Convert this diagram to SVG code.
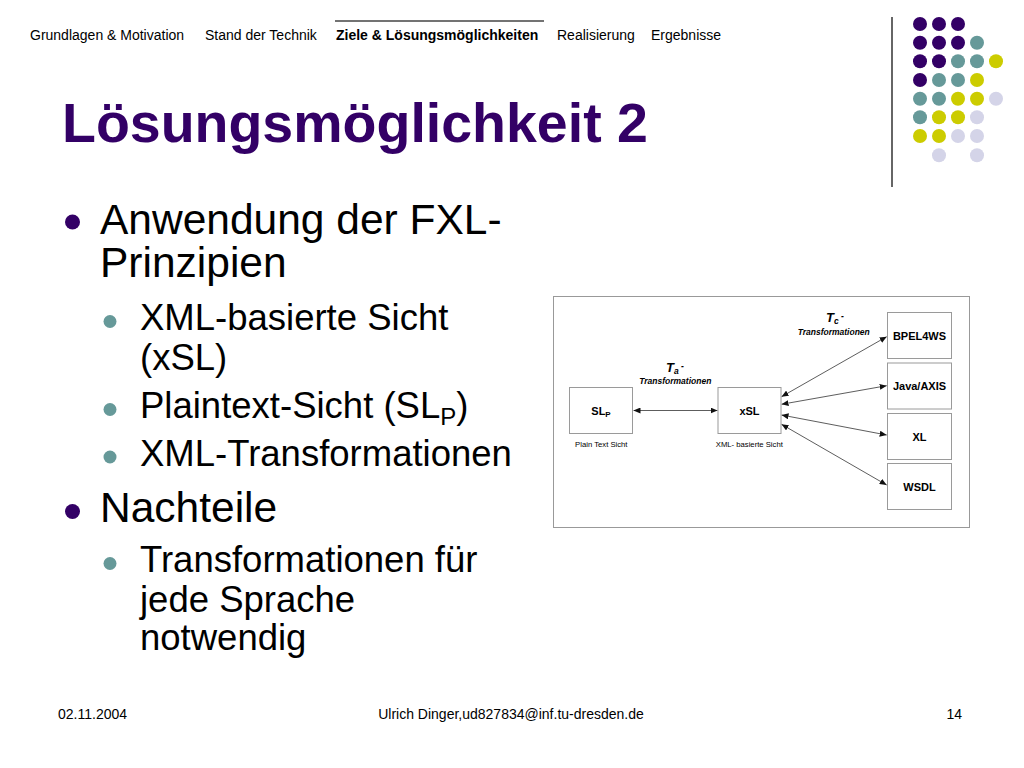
<svg xmlns="http://www.w3.org/2000/svg" width="1024" height="768" viewBox="0 0 1024 768">
<defs>
<style>
text{font-family:"Liberation Sans",Arial,sans-serif;}
.hdr{font-size:14px;fill:#000;}
.hdrb{font-size:14px;font-weight:bold;fill:#000;}
.title{font-size:55.5px;font-weight:bold;fill:#330066;}
.l1{font-size:42.5px;fill:#000;}
.l2{font-size:36.5px;fill:#000;}
.foot{font-size:14px;fill:#000;}
.b1{fill:#330066;}
.b2{fill:#669999;}
.pu{fill:#330066;}.te{fill:#669999;}.ye{fill:#cccc00;}.la{fill:#d4d4e8;}
.box{fill:#fff;stroke:#9a9a9a;stroke-width:1;}
.lbl{font-size:11px;font-weight:bold;fill:#000;text-anchor:middle;}
.cap{font-size:7.7px;fill:#000;text-anchor:middle;}
.tr{font-size:8.5px;font-weight:bold;font-style:italic;fill:#000;text-anchor:middle;}
.tt{font-size:13px;font-weight:bold;font-style:italic;fill:#000;}
.conn{stroke:#333;stroke-width:0.8;fill:none;marker-start:url(#ah);marker-end:url(#ah);}
</style>
<marker id="ah" markerUnits="userSpaceOnUse" markerWidth="7" markerHeight="6" refX="7" refY="3" orient="auto-start-reverse">
<path d="M0,0 L7,3 L0,6 z" fill="#111"/>
</marker>
</defs>
<rect width="1024" height="768" fill="#fff"/>

<!-- header navigation -->
<g id="header">
<text class="hdr" x="30" y="40">Grundlagen &amp; Motivation</text>
<text class="hdr" x="205" y="40">Stand der Technik</text>
<text class="hdrb" x="336" y="40">Ziele &amp; Lösungsmöglichkeiten</text>
<text class="hdr" x="557" y="40">Realisierung</text>
<text class="hdr" x="651" y="40">Ergebnisse</text>
<line x1="335" y1="21" x2="544" y2="21" stroke="#444" stroke-width="1.5"/>
</g>

<!-- decoration -->
<g id="decoration">
<line x1="892" y1="17" x2="892" y2="187" stroke="#333" stroke-width="1.5"/>
<circle class="pu" cx="920" cy="24" r="7"/><circle class="pu" cx="939" cy="24" r="7"/><circle class="pu" cx="958" cy="24" r="7"/>
<circle class="pu" cx="920" cy="42.7" r="7"/><circle class="pu" cx="939" cy="42.7" r="7"/><circle class="pu" cx="958" cy="42.7" r="7"/><circle class="te" cx="977" cy="42.7" r="7"/>
<circle class="pu" cx="920" cy="61.3" r="7"/><circle class="pu" cx="939" cy="61.3" r="7"/><circle class="te" cx="958" cy="61.3" r="7"/><circle class="te" cx="977" cy="61.3" r="7"/><circle class="ye" cx="996" cy="61.3" r="7"/>
<circle class="pu" cx="920" cy="80" r="7"/><circle class="te" cx="939" cy="80" r="7"/><circle class="te" cx="958" cy="80" r="7"/><circle class="ye" cx="977" cy="80" r="7"/>
<circle class="te" cx="920" cy="98.7" r="7"/><circle class="te" cx="939" cy="98.7" r="7"/><circle class="ye" cx="958" cy="98.7" r="7"/><circle class="ye" cx="977" cy="98.7" r="7"/><circle class="la" cx="996" cy="98.7" r="7"/>
<circle class="te" cx="920" cy="117.3" r="7"/><circle class="ye" cx="939" cy="117.3" r="7"/><circle class="ye" cx="958" cy="117.3" r="7"/><circle class="la" cx="977" cy="117.3" r="7"/>
<circle class="ye" cx="920" cy="136" r="7"/><circle class="ye" cx="939" cy="136" r="7"/><circle class="la" cx="958" cy="136" r="7"/><circle class="la" cx="977" cy="136" r="7"/>
<circle class="la" cx="939" cy="155.3" r="7"/><circle class="la" cx="977" cy="155.3" r="7"/>
</g>

<!-- title -->
<text class="title" x="62" y="142">Lösungsmöglichkeit 2</text>

<!-- bullet list -->
<g id="bullets">
<circle class="b1" cx="72.5" cy="222" r="7.5"/>
<text class="l1" x="100" y="234">Anwendung der FXL-</text>
<text class="l1" x="100" y="277">Prinzipien</text>
<circle class="b2" cx="110" cy="321.5" r="6.5"/>
<text class="l2" x="140" y="330">XML-basierte Sicht</text>
<text class="l2" x="140" y="370">(xSL)</text>
<circle class="b2" cx="110" cy="409.5" r="6.5"/>
<text class="l2" x="140" y="418">Plaintext-Sicht (SL<tspan font-size="24" dy="7">P</tspan><tspan dy="-7">)</tspan></text>
<circle class="b2" cx="110" cy="457" r="6.5"/>
<text class="l2" x="140" y="466">XML-Transformationen</text>
<circle class="b1" cx="72.5" cy="511.5" r="7.5"/>
<text class="l1" x="100" y="522">Nachteile</text>
<circle class="b2" cx="110" cy="563.5" r="6.5"/>
<text class="l2" x="140" y="572">Transformationen für</text>
<text class="l2" x="140" y="612">jede Sprache</text>
<text class="l2" x="140" y="650">notwendig</text>
</g>

<!-- diagram -->
<g id="diagram">
<rect x="553.5" y="296.5" width="416" height="231" fill="#fff" stroke="#999" stroke-width="1"/>

<g id="connectors">
<line class="conn" x1="633.5" y1="410.5" x2="717.5" y2="410.5"/>
<line class="conn" x1="781.5" y1="396.7" x2="886.7" y2="336.7"/>
<line class="conn" x1="781.5" y1="404.3" x2="886.7" y2="385.7"/>
<line class="conn" x1="781.5" y1="415" x2="886.7" y2="435"/>
<line class="conn" x1="781.5" y1="424.3" x2="886.7" y2="485"/>
</g>

<g id="n-slp">
<rect class="box" x="569.5" y="387.5" width="63" height="46"/>
<text class="lbl" x="601" y="415">SL<tspan font-size="8" dy="2">P</tspan></text>
<text class="cap" x="601.3" y="446.7">Plain Text Sicht</text>
</g>
<g id="n-xsl">
<rect class="box" x="718" y="387.5" width="63" height="46"/>
<text class="lbl" x="749.5" y="415">xSL</text>
<text class="cap" x="749.3" y="446.7">XML- basierte Sicht</text>
</g>
<g id="n-bpel">
<rect class="box" x="887.5" y="312.5" width="64" height="46"/>
<text class="lbl" x="919.5" y="339.5">BPEL4WS</text>
</g>
<g id="n-java">
<rect class="box" x="887.5" y="363" width="64" height="46"/>
<text class="lbl" x="919.5" y="390">Java/AXIS</text>
</g>
<g id="n-xl">
<rect class="box" x="887.5" y="413.5" width="64" height="46"/>
<text class="lbl" x="919.5" y="440.5">XL</text>
</g>
<g id="n-wsdl">
<rect class="box" x="887.5" y="463.5" width="64" height="46"/>
<text class="lbl" x="919.5" y="490.5">WSDL</text>
</g>

<g id="label-ta">
<text class="tt" x="666" y="372">T<tspan font-size="8.5" dy="2">a</tspan><tspan font-size="8.5" dy="-5"> -</tspan></text>
<text class="tr" x="675.3" y="384">Transformationen</text>
</g>
<g id="label-tc">
<text class="tt" x="826" y="321.5">T<tspan font-size="8.5" dy="2">c</tspan><tspan font-size="8.5" dy="-5"> -</tspan></text>
<text class="tr" x="833.7" y="334.5">Transformationen</text>
</g>
</g>

<!-- footer -->
<g id="footer">
<text class="foot" x="58" y="719">02.11.2004</text>
<text class="foot" x="511" y="719" text-anchor="middle">Ulrich Dinger,ud827834@inf.tu-dresden.de</text>
<text class="foot" x="962" y="719" text-anchor="end">14</text>
</g>
</svg>
